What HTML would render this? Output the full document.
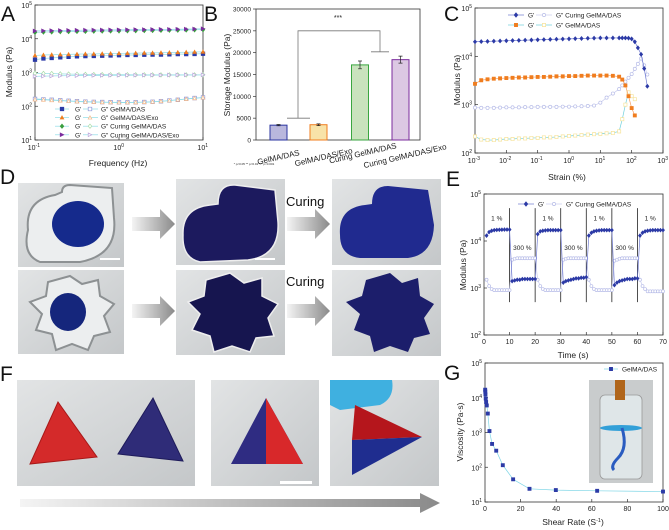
<!DOCTYPE html>
<html><head><meta charset="utf-8"><style>
html,body{margin:0;padding:0;background:#fff;}
svg{display:block;font-family:"Liberation Sans",Arial,sans-serif;}
</style></head><body>
<svg id="fig" width="669" height="530" viewBox="0 0 669 530" xmlns="http://www.w3.org/2000/svg">
<defs>
<linearGradient id="arr" x1="0" x2="1"><stop offset="0" stop-color="#f4f4f4"/><stop offset="1" stop-color="#8a8a8a"/></linearGradient>
<linearGradient id="photo" x1="0" x2="1" y1="0" y2="1"><stop offset="0" stop-color="#e2e4e5"/><stop offset="1" stop-color="#c4c7c9"/></linearGradient>
</defs>
<g font-size="21" fill="#111">
<text x="1" y="21">A</text>
<text x="204" y="21">B</text>
<text x="444" y="21">C</text>
<text x="0" y="184">D</text>
<text x="446" y="186">E</text>
<text x="0" y="381">F</text>
<text x="444" y="380">G</text>
</g>
<g>
<rect x="18" y="183" width="106" height="84" fill="url(#photo)"/>
<path d="M28 230 Q25 200 55 195 L62 192 Q62 185 70 185 L112 188 L114 218 Q118 255 80 262 L40 262 Q22 255 28 230Z" fill="#eceeef" stroke="#8d9193" stroke-width="2"/>
<ellipse cx="78" cy="224" rx="26" ry="23" fill="#152a8c"/>
<rect x="100" y="258" width="20" height="2" fill="#fff"/>
<rect x="176" y="179" width="109" height="86" fill="url(#photo)"/>
<path d="M183 235 Q182 208 210 205 L218 204 Q218 184 235 185 L275 190 L278 222 Q280 256 248 260 L200 262 Q182 258 183 235Z" fill="#1c1a5e" stroke="#eee" stroke-width="1.5"/>
<rect x="255" y="258" width="20" height="2" fill="#fff"/>
<rect x="332" y="179" width="109" height="86" fill="url(#photo)"/>
<path d="M340 235 Q338 208 365 205 L372 204 Q372 186 388 186 L428 190 L434 225 Q433 255 408 258 L360 258 Q340 256 340 235Z" fill="#202a8f"/>
<rect x="18" y="270" width="106" height="84" fill="url(#photo)"/>
<path d="M70 276 L82 284 L98 280 L100 296 L114 304 L104 316 L110 332 L94 336 L88 350 L72 344 L56 350 L52 334 L36 330 L42 314 L30 302 L46 296 L48 282 Z" fill="#eceeef" stroke="#8d9193" stroke-width="2"/>
<ellipse cx="68" cy="312" rx="18" ry="19" fill="#15267c"/>
<rect x="176" y="270" width="109" height="85" fill="url(#photo)"/>
<path d="M230 273 L244 283 L262 278 L262 296 L278 304 L268 318 L274 336 L256 338 L250 352 L232 346 L214 352 L210 336 L192 330 L200 314 L188 302 L204 296 L206 280 Z" fill="#16154f" stroke="#eee" stroke-width="1.5"/>
<rect x="332" y="270" width="109" height="86" fill="url(#photo)"/>
<path d="M390 273 L402 283 L418 278 L420 296 L434 304 L424 318 L430 334 L414 338 L408 352 L390 346 L374 352 L370 336 L354 330 L360 314 L346 302 L362 296 L366 280 Z" fill="#1c1e6b"/>
<path d="M132 217 H160 V209 L175 224 L160 239 V231 H132Z" fill="url(#arr)"/>
<path d="M132 304 H160 V296 L175 311 L160 326 V318 H132Z" fill="url(#arr)"/>
<path d="M287 217 H315 V209 L330 224 L315 239 V231 H287Z" fill="url(#arr)"/>
<path d="M287 304 H315 V296 L330 311 L315 326 V318 H287Z" fill="url(#arr)"/>
<text x="286" y="206" font-size="13" fill="#111">Curing</text>
<text x="286" y="286" font-size="13" fill="#111">Curing</text>
</g>
<g>
<rect x="17" y="380" width="178" height="106" fill="url(#photo)"/>
<path d="M58 402 L97 457 L30 464Z" fill="#d42a2a" stroke="#a81818"/>
<path d="M153 398 L183 461 L118 454Z" fill="#2f2c78" stroke="#1e1b5a"/>
<rect x="211" y="380" width="108" height="106" fill="url(#photo)"/>
<path d="M266 398 L303 464 L231 464Z" fill="#2f2c82"/>
<path d="M266 398 L303 464 L266 464Z" fill="#d8282a"/>
<rect x="280" y="481" width="32" height="3" fill="#fff"/>
<rect x="330" y="380" width="109" height="106" fill="url(#photo)"/>
<path d="M330 380 H392 Q395 398 380 405 L340 410 L330 405Z" fill="#3fb0e0"/>
<path d="M355 405 L422 437 L352 440Z" fill="#b5161c"/>
<path d="M352 440 L422 437 L352 475Z" fill="#1f2d8f"/>
<path d="M20 499 H420 V493 L440 503 L420 513 V507 H20Z" fill="url(#arr)"/>
</g>
<g>
<rect x="589" y="380" width="64" height="103" fill="#c9cccd"/>
<rect x="600" y="395" width="42" height="84" rx="5" fill="#dfe6e8" stroke="#999" stroke-width="0.8"/>
<rect x="615" y="380" width="10" height="20" fill="#b0651a"/>
<ellipse cx="621" cy="428" rx="21" ry="3" fill="#33a0d8"/>
<path d="M622 428 Q628 448 618 458 Q610 466 614 470" stroke="#2a5cc0" stroke-width="3" fill="none"/>
</g>
<g id="charts"></g>
</svg>
<script>
const freqHz = [0.1,0.126,0.158,0.2,0.251,0.316,0.398,0.501,0.631,0.794,1,1.26,1.58,2,2.51,3.16,3.98,5.01,6.31,7.94,10];
const aGpDas = [2400,2600,2700,2800,2900,3000,3050,3100,3150,3200,3250,3300,3300,3350,3400,3400,3450,3500,3500,3550,3600];
const aGppDas = [165,160,155,150,145,140,137,135,133,132,130,130,131,133,136,140,148,155,165,175,182];
const aGpExo = [3200,3300,3350,3400,3450,3500,3550,3550,3600,3650,3700,3700,3750,3800,3800,3850,3900,3950,4000,4050,4100];
const aGppExo = [158,155,150,146,142,138,135,133,131,130,129,129,130,132,135,140,147,155,163,172,180];
const aGpCur = [15500,15800,16000,16200,16300,16500,16600,16800,16900,17000,17100,17200,17400,17500,17600,17800,17900,18000,18200,18400,18600];
const aGppCur = [950,940,930,910,900,890,880,870,865,860,860,858,855,855,852,850,850,850,850,852,855];
const aGpCurExo = [17000,17200,17400,17500,17700,17800,18000,18100,18200,18300,18400,18500,18600,18700,18800,18900,19000,19200,19300,19500,19800];
const aGppCurExo = [770,780,790,800,805,810,815,820,820,825,828,830,832,835,838,840,842,845,848,850,852];

const bCategories = ["GelMA/DAS","GelMA/DAS/Exo","Curing GelMA/DAS","Curing GelMA/DAS/Exo"];
const bValues = [3400,3500,17200,18400];
const bErrors = [150,200,900,800];
const bTicks = [0,5000,10000,15000,20000,25000,30000];

const cStrain = [0.001,0.00158,0.00251,0.00398,0.00631,0.01,0.0158,0.0251,0.0398,0.0631,0.1,0.158,0.251,0.398,0.631,1,1.58,2.51,3.98,6.31,10,15.8,25.1,39.8,50.1,63.1,79.4,100,126,158,200,251,316];
const cGpCur = [20000,20200,20400,20600,20800,21000,21200,21400,21600,21800,22000,22200,22400,22600,22800,23000,23200,23400,23600,23800,24000,24000,24000,24000,24000,24000,23800,23000,20000,15000,11000,5600,2400];
const cGppCur = [870,860,860,860,870,880,880,880,890,890,900,900,900,900,910,910,920,930,940,960,1100,1400,1700,2100,2500,3000,3600,4300,5500,7000,9000,6500,4200];
const cGpDas = [2700,3200,3350,3450,3500,3550,3600,3650,3650,3700,3750,3750,3800,3850,3850,3900,3900,3950,4000,4000,4000,4000,3950,3800,3300,2500,1500,850,600,null,null,null,null];
const cGppDas = [220,190,185,185,190,195,195,200,200,205,205,210,210,215,220,225,230,235,240,245,250,255,260,280,500,1000,1800,1500,1300,null,null,null,null];

const eTime = [1,2,3,4,5,6,7,8,9,10,11,12,13,14,15,16,17,18,19,20,21,22,23,24,25,26,27,28,29,30,31,32,33,34,35,36,37,38,39,40,41,42,43,44,45,46,47,48,49,50,51,52,53,54,55,56,57,58,59,60,61,62,63,64,65,66,67,68,69,70];
const eGp = [13000,15500,16500,17000,17200,17300,17400,17500,17500,17500,
 1400,1450,1500,1500,1550,1550,1550,1550,1550,1550,
 14000,16000,16500,16800,17000,17000,17000,17000,17000,17000,
 1300,1400,1450,1500,1550,1600,1600,1650,1650,1700,
 13000,15000,16000,16500,16800,17000,17000,17000,17000,17000,
 1150,1300,1400,1450,1500,1550,1550,1550,1600,1600,
 13000,15000,16000,16500,16800,17000,17000,17000,17000,17000];
const eGpp = [1500,1100,950,900,900,900,900,900,900,900,
 4000,4200,4300,4300,4300,4300,4300,4300,4300,4300,
 1500,1100,950,900,900,900,900,900,900,900,
 4000,4200,4300,4300,4300,4300,4300,4300,4300,4300,
 1500,1100,950,900,900,900,900,900,900,900,
 3800,4000,4200,4300,4300,4300,4300,4300,4300,4300,
 1500,1100,950,850,850,850,850,850,850,850];
const eSwitchTimes = [10,20,30,40,50,60];
const eStrainLabels = ["1 %","300 %","1 %","300 %","1 %","300 %","1 %"];

const gShear = [0.1,0.16,0.25,0.4,0.63,1,1.58,2.5,3.98,6.3,10,15.8,25,39.8,63,100];
const gVisc = [17000,15000,12500,9500,7500,6000,3500,1100,470,300,115,45,24,22,21,20];

const NS="http://www.w3.org/2000/svg";
const root=document.getElementById('charts');
function mk(tag,attrs,parent,name){
  const e=document.createElementNS(NS,tag);
  for(const k in attrs) e.setAttribute(k,attrs[k]);
  
  
  parent.appendChild(e); return e;
}
function txt(x,y,s,size,parent,name,anchor,extra){
  const t=mk('text',Object.assign({x:x,y:y,'font-size':size,fill:'#222','text-anchor':anchor||'middle'},extra||{}),parent,name);
  t.textContent=s; return t;
}
function powLabel(x,y,exp,parent,name){
  const t=mk('text',{x:x,y:y,'font-size':7,fill:'#222','text-anchor':'end'},parent,name);
  t.textContent='10';
  const s=document.createElementNS(NS,'tspan');
  s.setAttribute('dy','-3'); s.setAttribute('font-size','5'); s.textContent=String(exp);
  t.appendChild(s); return t;
}
function logScale(v0,v1,p0,p1){const a=Math.log10(v0),b=Math.log10(v1);return v=>p0+(Math.log10(v)-a)/(b-a)*(p1-p0);}
function linScale(v0,v1,p0,p1){return v=>p0+(v-v0)/(v1-v0)*(p1-p0);}
function marker(shape,x,y,r,fill,stroke,parent,name){
  let d;
  if(shape==='sq') d=`M${x-r} ${y-r}h${2*r}v${2*r}h${-2*r}Z`;
  else if(shape==='tri') d=`M${x} ${y-r}L${x+r} ${y+r*0.8}L${x-r} ${y+r*0.8}Z`;
  else if(shape==='dia') d=`M${x} ${y-r*1.2}L${x+r} ${y}L${x} ${y+r*1.2}L${x-r} ${y}Z`;
  else if(shape==='rtri') d=`M${x-r} ${y-r}L${x+r} ${y}L${x-r} ${y+r}Z`;
  if(shape==='circ') return mk('circle',{cx:x,cy:y,r:r,fill:fill,stroke:stroke,'stroke-width':0.7},parent,name);
  return mk('path',{d:d,fill:fill,stroke:stroke,'stroke-width':0.7},parent,name);
}
function series(xs,ys,sx,sy,shape,fill,stroke,lineColor,parent,name,r){
  const g=mk('g',{},parent,name);
  let pts=[];
  xs.forEach((x,i)=>{if(ys[i]!=null) pts.push([sx(x),sy(ys[i])]);});
  mk('polyline',{points:pts.map(p=>p.join(',')).join(' '),fill:'none',stroke:lineColor,'stroke-width':0.7},g,name+'-line');
  pts.forEach(p=>marker(shape,p[0],p[1],r||1.8,fill,stroke,g,name+'-point'));
  return g;
}
function box(x0,y0,x1,y1,parent,name){
  mk('rect',{x:x0,y:y0,width:x1-x0,height:y1-y0,fill:'none',stroke:'#333','stroke-width':0.8},parent,name);
}

(function(){
  const g=mk('g',{},root,'panel-a-chart');
  const X0=35,X1=203,Y0=5,Y1=140;
  const sx=logScale(0.1,10,X0,X1), sy=logScale(10,1e5,Y1,Y0);
  box(X0,Y0,X1,Y1,g,'panel-a-axes');
  [1,2,3,4,5].forEach(e=>{const y=sy(Math.pow(10,e));mk('line',{x1:X0,x2:X0+3,y1:y,y2:y,stroke:'#333','stroke-width':0.7},g,'y-tick');powLabel(X0-3,y+3,e,g,'y-tick-label');});
  [-1,0,1].forEach(e=>{const x=sx(Math.pow(10,e));mk('line',{x1:x,x2:x,y1:Y1,y2:Y1-3,stroke:'#333','stroke-width':0.7},g,'x-tick');powLabel(x+5,Y1+10,e,g,'x-tick-label');});
  txt(118,166,'Frequency (Hz)',8.5,g,'x-axis-title');
  txt(12,72,'Modulus (Pa)',8.5,g,'y-axis-title','middle',{transform:'rotate(-90 12 72)'});
  const cy='#8fdde6';
  series(freqHz,aGppDas,sx,sy,'sq','#fff','#8f98d8',cy,g,'series-gpp-gelma-das');
  series(freqHz,aGppExo,sx,sy,'tri','#fff','#f5b987',cy,g,'series-gpp-exo');
  series(freqHz,aGppCur,sx,sy,'dia','#fff','#a8dca8',cy,g,'series-gpp-curing');
  series(freqHz,aGppCurExo,sx,sy,'rtri','#fff','#b9a3d9',cy,g,'series-gpp-curing-exo');
  series(freqHz,aGpDas,sx,sy,'sq','#2c3aa6','#2c3aa6',cy,g,'series-gp-gelma-das');
  series(freqHz,aGpExo,sx,sy,'tri','#f07d1e','#f07d1e',cy,g,'series-gp-exo');
  series(freqHz,aGpCur,sx,sy,'dia','#3a9e3f','#3a9e3f',cy,g,'series-gp-curing');
  series(freqHz,aGpCurExo,sx,sy,'rtri','#7b2c9e','#7b2c9e',cy,g,'series-gp-curing-exo');
  const leg=[['sq','#2c3aa6','#8f98d8','GelMA/DAS'],['tri','#f07d1e','#f5b987','GelMA/DAS/Exo'],['dia','#3a9e3f','#a8dca8','Curing GelMA/DAS'],['rtri','#7b2c9e','#b9a3d9','Curing GelMA/DAS/Exo']];
  leg.forEach((l,i)=>{
    const y=109+i*8.6; const lg=mk('g',{},g,'legend-entry');
    mk('line',{x1:55,x2:69,y1:y,y2:y,stroke:cy,'stroke-width':0.7},lg,'legend-line');
    marker(l[0],62,y,1.8,l[1],l[1],lg,'legend-marker');
    txt(75,y+2.5,"G'",6.5,lg,'legend-text','start');
    mk('line',{x1:83,x2:98,y1:y,y2:y,stroke:cy,'stroke-width':0.7},lg,'legend-line');
    marker(l[0],90,y,1.8,'#fff',l[2],lg,'legend-marker');
    txt(101,y+2.5,'G" '+l[3],6.5,lg,'legend-text','start');
  });
})();

(function(){
  const g=mk('g',{},root,'panel-b-chart');
  const X0=256,X1=420,Y0=9,Y1=140;
  const sy=linScale(0,30000,Y1,Y0);
  box(X0,Y0,X1,Y1,g,'panel-b-axes');
  bTicks.forEach(v=>{const y=sy(v);mk('line',{x1:X0-3,x2:X0,y1:y,y2:y,stroke:'#333','stroke-width':0.7},g,'y-tick');txt(X0-5,y+2.5,String(v),6.5,g,'y-tick-label','end');});
  txt(230,75,'Storage Modulus (Pa)',8.5,g,'y-axis-title','middle',{transform:'rotate(-90 230 75)'});
  const fills=['#b9b7dd','#f8e3a8','#c9e3bd','#dcc8e3'], strokes=['#2b35a0','#f07d1e','#3aa640','#7b2c9e'];
  const centers=[278.5,318.5,360,400.5], bw=17;
  const labelEndX=[300,353,397,447], labelEndY=[149,147,142,143];
  bValues.forEach((v,i)=>{
    const c=centers[i];
    mk('rect',{x:c-bw/2,y:sy(v),width:bw,height:Y1-sy(v),fill:fills[i],stroke:strokes[i],'stroke-width':1},g,'bar-'+(i+1));
    const yt=sy(v+bErrors[i]),yb=sy(v-bErrors[i]);
    mk('path',{d:`M${c} ${yt}V${yb}M${c-2} ${yt}h4M${c-2} ${yb}h4`,stroke:'#222','stroke-width':0.7,fill:'none'},g,'error-bar');
    const lx=labelEndX[i], ly=labelEndY[i]+6;
    txt(lx,ly,bCategories[i],8,g,'x-tick-label','end',{transform:`rotate(-13 ${lx} ${ly})`});
  });
  mk('path',{d:`M287 ${sy(5000)}H310M298 ${sy(5000)}V${sy(25000)}H380V${sy(20200)}M371 ${sy(20200)}H389`,stroke:'#777','stroke-width':0.8,fill:'none'},g,'significance-bracket');
  txt(338,20,'***',7,g,'significance-stars');
  txt(254,165,'* p<0.05   ** p<0.01   *** p<0.001',3,g,'significance-note','middle');
})();

(function(){
  const g=mk('g',{},root,'panel-c-chart');
  const X0=475,X1=663,Y0=8,Y1=153;
  const sx=logScale(0.001,1000,X0,X1), sy=logScale(100,1e5,Y1,Y0);
  box(X0,Y0,X1,Y1,g,'panel-c-axes');
  [2,3,4,5].forEach(e=>{const y=sy(Math.pow(10,e));mk('line',{x1:X0,x2:X0+3,y1:y,y2:y,stroke:'#333','stroke-width':0.7},g,'y-tick');powLabel(X0-3,y+3,e,g,'y-tick-label');});
  [-3,-2,-1,0,1,2,3].forEach(e=>{const x=sx(Math.pow(10,e));mk('line',{x1:x,x2:x,y1:Y1,y2:Y1-3,stroke:'#333','stroke-width':0.7},g,'x-tick');powLabel(x+5,Y1+10,e,g,'x-tick-label');});
  txt(567,180,'Strain (%)',8.5,g,'x-axis-title');
  txt(460,80,'Modulus (Pa)',8.5,g,'y-axis-title','middle',{transform:'rotate(-90 460 80)'});
  series(cStrain,cGppCur,sx,sy,'circ','#fff','#b8bde8','#c8ccee',g,'series-gpp-curing',1.6);
  series(cStrain,cGppDas,sx,sy,'sq','#fff','#f6e39a','#6fd0dc',g,'series-gpp-gelma-das',1.6);
  series(cStrain,cGpDas,sx,sy,'sq','#f07d1e','#f07d1e','#f5a060',g,'series-gp-gelma-das',1.6);
  series(cStrain,cGpCur,sx,sy,'dia','#2c3aa6','#2c3aa6','#6f7ad0',g,'series-gp-curing',1.6);
  const lg=mk('g',{},g,'legend');
  mk('line',{x1:508,x2:524,y1:15,y2:15,stroke:'#6f7ad0','stroke-width':0.7},lg,'legend-line');
  marker('dia',516,15,1.8,'#2c3aa6','#2c3aa6',lg,'legend-marker');
  txt(528,17.5,"G'",6.5,lg,'legend-text','start');
  mk('line',{x1:536,x2:552,y1:15,y2:15,stroke:'#c8ccee','stroke-width':0.7},lg,'legend-line');
  marker('circ',544,15,1.6,'#fff','#b8bde8',lg,'legend-marker');
  txt(556,17.5,'G" Curing GelMA/DAS',6.5,lg,'legend-text','start');
  mk('line',{x1:508,x2:524,y1:25,y2:25,stroke:'#6fd0dc','stroke-width':0.7},lg,'legend-line');
  marker('sq',516,25,1.6,'#f07d1e','#f07d1e',lg,'legend-marker');
  txt(528,27.5,"G'",6.5,lg,'legend-text','start');
  mk('line',{x1:536,x2:552,y1:25,y2:25,stroke:'#6fd0dc','stroke-width':0.7},lg,'legend-line');
  marker('sq',544,25,1.6,'#fff','#f6e39a',lg,'legend-marker');
  txt(556,27.5,'G" GelMA/DAS',6.5,lg,'legend-text','start');
})();

(function(){
  const g=mk('g',{},root,'panel-e-chart');
  const X0=484,X1=663,Y0=194,Y1=335;
  const sx=linScale(0,70,X0,X1), sy=logScale(100,1e5,Y1,Y0);
  box(X0,Y0,X1,Y1,g,'panel-e-axes');
  [2,3,4,5].forEach(e=>{const y=sy(Math.pow(10,e));mk('line',{x1:X0,x2:X0+3,y1:y,y2:y,stroke:'#333','stroke-width':0.7},g,'y-tick');powLabel(X0-3,y+3,e,g,'y-tick-label');});
  [0,10,20,30,40,50,60,70].forEach(v=>{const x=sx(v);mk('line',{x1:x,x2:x,y1:Y1,y2:Y1-3,stroke:'#333','stroke-width':0.7},g,'x-tick');txt(x,Y1+9,String(v),7,g,'x-tick-label');});
  txt(573,358,'Time (s)',8.5,g,'x-axis-title');
  txt(466,265,'Modulus (Pa)',8.5,g,'y-axis-title','middle',{transform:'rotate(-90 466 265)'});
  eSwitchTimes.forEach(t=>mk('line',{x1:sx(t),x2:sx(t),y1:sy(50000),y2:sy(500),stroke:'#222','stroke-width':0.8},g,'strain-switch-line'));
  eStrainLabels.forEach((s,i)=>{const x=sx(i*10+5);txt(x,i%2?sy(6500):sy(27000),s,6.5,g,'strain-label');});
  series(eTime,eGpp,sx,sy,'circ','#fff','#b8bde8','#c8ccee',g,'series-gpp',1.5);
  series(eTime,eGp,sx,sy,'dia','#2c3aa6','#2c3aa6','#6f7ad0',g,'series-gp',1.5);
  const lg=mk('g',{},g,'legend');
  mk('line',{x1:518,x2:534,y1:204,y2:204,stroke:'#6f7ad0','stroke-width':0.7},lg,'legend-line');
  marker('dia',526,204,1.8,'#2c3aa6','#2c3aa6',lg,'legend-marker');
  txt(538,206.5,"G'",6.5,lg,'legend-text','start');
  mk('line',{x1:546,x2:562,y1:204,y2:204,stroke:'#c8ccee','stroke-width':0.7},lg,'legend-line');
  marker('circ',554,204,1.6,'#fff','#b8bde8',lg,'legend-marker');
  txt(566,206.5,'G" Curing GelMA/DAS',6.5,lg,'legend-text','start');
})();

(function(){
  const g=mk('g',{},root,'panel-g-chart');
  const X0=485,X1=663,Y0=363,Y1=502;
  const sx=linScale(0,100,X0,X1), sy=logScale(10,1e5,Y1,Y0);
  box(X0,Y0,X1,Y1,g,'panel-g-axes');
  [1,2,3,4,5].forEach(e=>{const y=sy(Math.pow(10,e));mk('line',{x1:X0,x2:X0+3,y1:y,y2:y,stroke:'#333','stroke-width':0.7},g,'y-tick');powLabel(X0-3,y+3,e,g,'y-tick-label');});
  [0,20,40,60,80,100].forEach(v=>{const x=sx(v);mk('line',{x1:x,x2:x,y1:Y1,y2:Y1-3,stroke:'#333','stroke-width':0.7},g,'x-tick');txt(x,Y1+9,String(v),7,g,'x-tick-label');});
  const t=txt(573,525,'Shear Rate (S',8.5,g,'x-axis-title');
  const s1=document.createElementNS(NS,'tspan');s1.setAttribute('dy','-3');s1.setAttribute('font-size','5.5');s1.textContent='-1';t.appendChild(s1);
  const s2=document.createElementNS(NS,'tspan');s2.setAttribute('dy','3');s2.textContent=')';t.appendChild(s2);
  txt(463,432,'Viscosity (Pa·s)',8.5,g,'y-axis-title','middle',{transform:'rotate(-90 463 432)'});
  series(gShear,gVisc,sx,sy,'sq','#2c3aa6','#2c3aa6','#7fd6e6',g,'series-viscosity',1.6);
  const lg=mk('g',{},g,'legend');
  mk('line',{x1:604,x2:618,y1:369,y2:369,stroke:'#7fd6e6','stroke-width':0.7},lg,'legend-line');
  marker('sq',611,369,1.6,'#2c3aa6','#2c3aa6',lg,'legend-marker');
  txt(622,371.5,'GelMA/DAS',6.5,lg,'legend-text','start');
})();
</script>
</body></html>
